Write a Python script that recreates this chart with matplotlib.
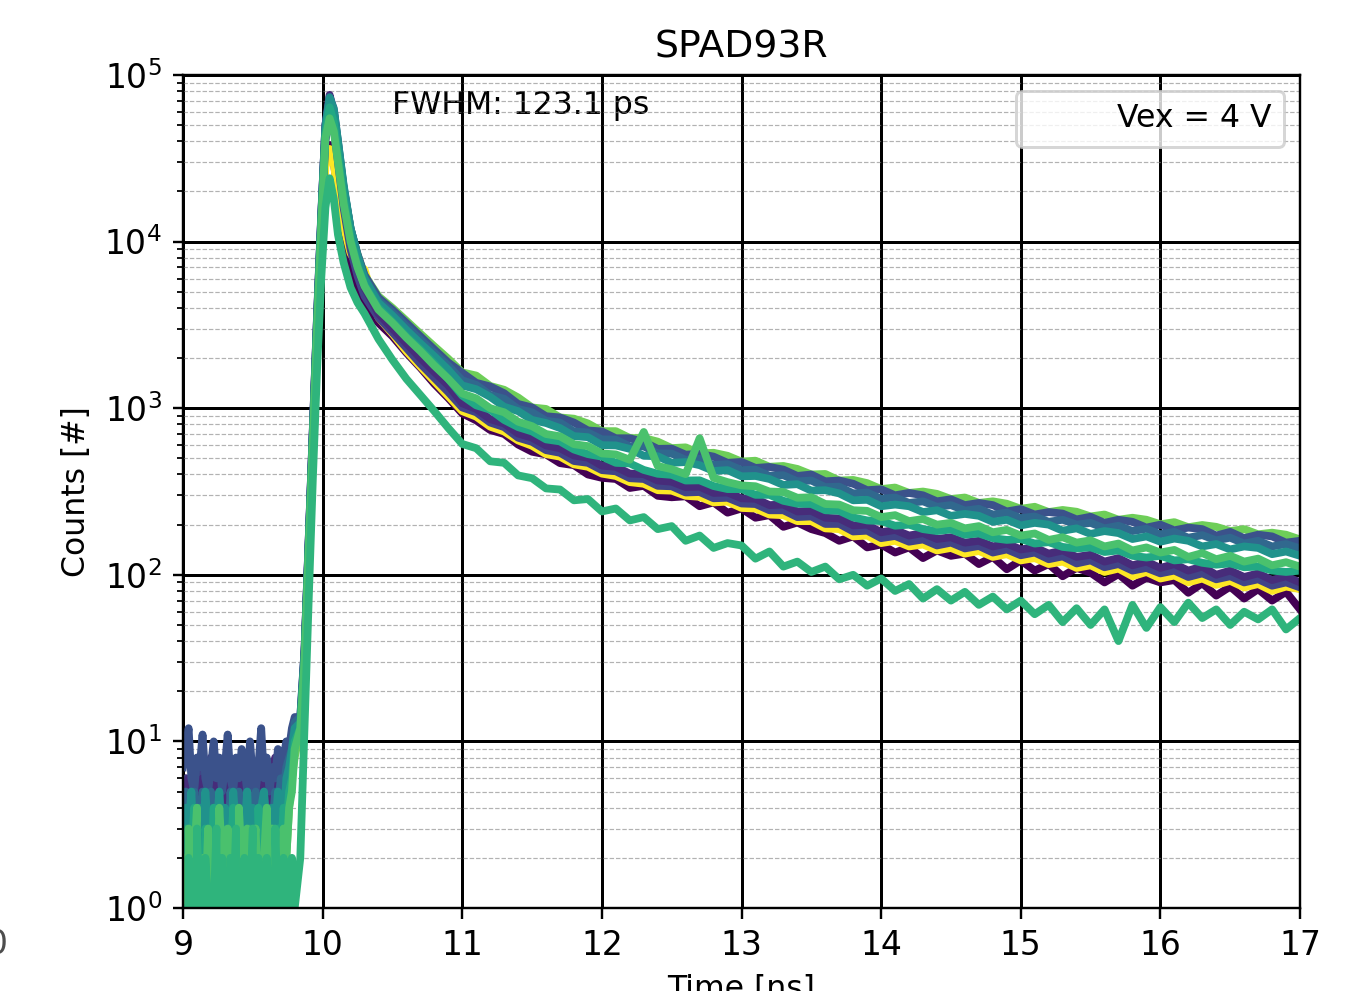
import numpy as np
import matplotlib
matplotlib.use('Agg')
from matplotlib import pyplot as plt

plt.rcParams['font.size'] = 10.5

# sampling grid: baseline noise, rising edge / peak, decay tail
t_noise = np.round(np.arange(9.0, 9.801, 0.02), 2)
t_rise = [9.84, 9.87, 9.90, 9.93, 9.96, 9.99, 10.02, 10.05, 10.08, 10.11,
          10.15, 10.20, 10.25, 10.30, 10.40, 10.50, 10.60, 10.70, 10.80, 10.90]
t_tail = np.round(np.arange(11.0, 17.01, 0.1), 1)
t = np.concatenate([t_noise, t_rise, t_tail])

purple = [4, 6, 3, 5, 4, 2, 6, 4, 5, 3, 4, 6, 2, 5, 4, 3, 6, 4, 5, 2, 4, 6, 3, 5, 4, 6, 3, 4, 5, 3, 6, 4, 5, 3, 6, 7, 5, 8, 9, 10, 12,
          11, 30, 140, 650, 3000, 12000, 30000, 38000, 30000, 19000, 11500, 7200, 5200, 4100, 3250, 2700, 2150, 1750, 1400, 1150,
          930, 845, 740, 700, 605, 548, 528, 468, 455, 400, 382, 376, 332, 342, 298, 292, 296, 258, 272, 236,
          250, 220, 228, 194, 206, 188, 178, 160, 170, 146, 152, 136, 146, 126, 140, 130, 134, 116, 128, 108,
          122, 106, 116, 98, 110, 103, 90, 101, 86, 96, 90, 93, 78, 89, 75, 85, 72, 82, 70, 79, 62]
yellow = [3, 5, 4, 2, 5, 3, 4, 6, 3, 4, 2, 5, 4, 3, 6, 3, 4, 5, 2, 4, 3, 5, 4, 2, 5, 3, 4, 5, 3, 2, 5, 4, 3, 6, 4, 5, 6, 7, 8, 9, 11,
          10, 26, 120, 560, 2600, 10500, 28000, 36000, 29000, 19500, 12500, 8500, 7200, 6800, 3500, 2800, 2200, 1780, 1450, 1180,
          960, 890, 775, 725, 640, 595, 530, 512, 460, 445, 405, 392, 360, 352, 322, 320, 298, 294, 272, 275,
          252, 250, 230, 228, 210, 210, 190, 188, 170, 172, 155, 160, 148, 152, 140, 145, 134, 139, 128, 133,
          122, 126, 116, 120, 110, 114, 104, 109, 98, 104, 95, 99, 90, 95, 87, 92, 84, 88, 80, 85, 82]
slate = [4, 6, 5, 3, 6, 4, 7, 5, 3, 6, 4, 5, 7, 4, 3, 6, 5, 4, 7, 3, 5, 6, 4, 5, 3, 7, 4, 6, 5, 3, 6, 5, 4, 7, 5, 6, 8, 7, 9, 11, 13,
         12, 32, 150, 700, 3200, 13000, 40000, 60000, 48000, 30000, 16000, 9000, 6200, 4700, 3500, 2850, 2300, 1850, 1520, 1250,
         1010, 945, 820, 770, 665, 628, 560, 540, 482, 470, 425, 418, 380, 376, 342, 340, 312, 314, 288, 290,
         268, 266, 244, 244, 222, 224, 202, 202, 182, 184, 166, 171, 158, 163, 150, 156, 144, 149, 136, 142,
         131, 136, 124, 129, 117, 122, 111, 116, 106, 110, 102, 106, 97, 102, 94, 98, 90, 94, 86, 90, 84]
indigo = [5, 4, 6, 3, 7, 5, 4, 6, 5, 3, 8, 4, 5, 6, 3, 5, 7, 4, 6, 5, 3, 6, 4, 7, 5, 3, 6, 5, 4, 7, 5, 6, 3, 8, 5, 6, 7, 9, 8, 10, 13,
          13, 34, 160, 750, 3500, 14000, 50000, 76000, 60000, 36000, 19000, 10500, 7000, 5300, 3700, 3000, 2450, 2000, 1650, 1370,
          1070, 990, 860, 810, 705, 665, 598, 575, 520, 505, 452, 445, 405, 402, 368, 362, 336, 338, 310, 312,
          288, 286, 262, 264, 240, 242, 220, 218, 198, 200, 180, 186, 172, 178, 164, 168, 156, 160, 148, 154,
          142, 146, 134, 140, 128, 132, 120, 126, 114, 120, 110, 116, 106, 112, 100, 106, 97, 102, 93, 98, 90]
jade = [1, 3, 0, 2, 4, 1, 2, 0, 3, 2, 1, 4, 0, 2, 3, 1, 0, 2, 4, 1, 3, 0, 2, 1, 3, 2, 0, 4, 1, 2, 3, 0, 2, 1, 3, 2, 4, 3, 5, 6, 10,
        12, 30, 140, 660, 3050, 12800, 44000, 64000, 52000, 33000, 18500, 10500, 7200, 5500, 4000, 3300, 2700, 2250, 1850, 1500,
        1190, 1040, 980, 850, 770, 725, 650, 632, 565, 530, 512, 470, 466, 426, 404, 398, 368, 369, 341, 327,
        327, 302, 302, 278, 267, 266, 244, 242, 221, 212, 210, 197, 200, 188, 183, 187, 174, 177, 166, 162,
        164, 154, 157, 147, 144, 146, 137, 140, 130, 127, 130, 122, 124, 118, 115, 117, 111, 112, 106, 104, 106]
greenmid = [2, 0, 3, 1, 2, 4, 0, 2, 1, 3, 0, 2, 1, 4, 2, 0, 3, 1, 2, 0, 4, 2, 1, 3, 0, 2, 3, 1, 0, 2, 4, 1, 3, 0, 2, 1, 3, 2, 4, 5, 9,
            12, 30, 140, 650, 3000, 12500, 42000, 55000, 46000, 30000, 17000, 10000, 7000, 5400, 3900, 3250, 2650, 2200, 1800, 1500,
            1225, 1145, 1000, 945, 830, 780, 700, 678, 608, 592, 535, 528, 490, 720, 450, 430, 402, 660, 382, 360,
            344, 340, 316, 314, 290, 292, 266, 264, 244, 242, 222, 228, 210, 216, 200, 205, 190, 196, 180, 186,
            172, 177, 162, 168, 156, 161, 148, 154, 140, 146, 136, 141, 128, 135, 124, 130, 120, 125, 114, 119, 112]
teal = [2, 4, 3, 5, 2, 3, 4, 2, 5, 3, 2, 4, 3, 5, 2, 4, 3, 2, 5, 3, 4, 2, 3, 5, 2, 4, 3, 2, 4, 5, 3, 2, 4, 3, 5, 4, 3, 6, 7, 9, 12,
        13, 32, 150, 700, 3300, 13500, 48000, 73000, 62000, 40000, 22000, 12000, 8200, 6000, 4300, 3600, 2950, 2450, 2050, 1700,
        1370, 1300, 1170, 1020, 960, 850, 815, 760, 680, 670, 600, 598, 570, 518, 515, 470, 475, 455, 420, 425,
        390, 392, 376, 346, 350, 320, 322, 308, 280, 282, 258, 264, 258, 238, 244, 226, 232, 226, 208, 214,
        198, 205, 200, 184, 190, 176, 183, 178, 164, 170, 158, 165, 160, 148, 153, 142, 148, 145, 133, 138, 130]
steel = [3, 5, 2, 4, 5, 3, 2, 5, 4, 3, 5, 2, 4, 5, 3, 4, 2, 5, 3, 4, 5, 2, 3, 5, 4, 2, 5, 3, 4, 5, 2, 4, 3, 5, 4, 6, 5, 7, 8, 9, 13,
         14, 34, 155, 730, 3450, 14000, 50000, 74000, 63000, 40000, 21500, 12000, 8300, 6100, 4450, 3750, 3100, 2580, 2150, 1800,
         1470, 1380, 1200, 1140, 990, 945, 840, 820, 725, 715, 650, 648, 590, 590, 535, 534, 490, 497, 456, 462,
         425, 428, 393, 396, 364, 368, 336, 338, 308, 312, 286, 291, 270, 276, 256, 262, 243, 249, 230, 236,
         219, 224, 208, 214, 200, 205, 190, 197, 183, 189, 175, 181, 167, 173, 161, 167, 154, 160, 148, 153, 144]
blue = [7, 9, 12, 6, 5, 8, 7, 11, 6, 5, 7, 10, 6, 8, 5, 7, 11, 6, 5, 8, 6, 9, 7, 5, 10, 6, 5, 7, 12, 6, 8, 5, 7, 6, 9, 6, 8, 10, 9, 12, 14,
        14, 35, 160, 760, 3600, 14500, 50000, 71000, 60000, 39000, 21000, 12000, 8400, 6300, 4600, 3900, 3250, 2700, 2250, 1880,
        1630, 1420, 1350, 1230, 1060, 1010, 895, 880, 820, 735, 725, 660, 660, 628, 570, 572, 526, 532, 512, 470,
        476, 438, 444, 428, 392, 400, 364, 368, 352, 322, 326, 300, 310, 300, 276, 284, 262, 270, 262, 240,
        248, 230, 238, 233, 215, 223, 205, 214, 208, 192, 200, 185, 192, 188, 172, 181, 166, 174, 170, 156, 160]
lightgreen = [0, 2, 1, 3, 0, 2, 4, 1, 0, 3, 2, 1, 0, 2, 3, 1, 4, 0, 2, 1, 0, 3, 2, 0, 1, 4, 2, 0, 3, 1, 2, 0, 4, 1, 2, 3, 1, 2, 4, 6, 8,
              12, 30, 140, 650, 3100, 13000, 45000, 62000, 55000, 37000, 21000, 12000, 8400, 6300, 4700, 4000, 3350, 2800, 2350, 1980,
              1640, 1570, 1360, 1290, 1160, 1010, 990, 880, 865, 810, 728, 728, 662, 662, 630, 576, 582, 535, 540, 518,
              478, 484, 445, 450, 432, 400, 403, 368, 371, 355, 327, 334, 310, 316, 306, 285, 291, 270, 276, 267,
              249, 256, 238, 245, 239, 224, 230, 214, 220, 214, 201, 207, 193, 199, 194, 183, 188, 175, 179, 174, 163]
outlier = [1, 0, 2, 1, 0, 3, 1, 0, 2, 1, 0, 1, 3, 0, 2, 1, 0, 2, 1, 3, 0, 1, 2, 0, 1, 3, 0, 2, 1, 0, 2, 1, 0, 3, 1, 0, 2, 1, 0, 2, 1,
           2, 12, 70, 380, 1700, 6000, 16000, 24000, 18000, 11000, 7500, 5300, 4300, 3700, 2600, 1950, 1500, 1200, 960, 760,
           610, 575, 480, 470, 395, 380, 330, 325, 280, 285, 240, 250, 212, 222, 188, 196, 160, 172, 145, 155,
           150, 125, 138, 112, 120, 104, 112, 94, 100, 86, 95, 80, 88, 72, 82, 70, 79, 66, 74, 62,
           70, 58, 66, 52, 63, 50, 62, 40, 66, 48, 64, 52, 68, 55, 62, 50, 60, 54, 62, 47, 55]

curves = [purple, yellow, lightgreen, slate, indigo, blue, steel, teal, jade, greenmid, outlier]
colors = ['#440154', '#fde725', '#6ece58', '#414487', '#472c7a', '#3b528b',
          '#31688e', '#20928c', '#22a884', '#4ac16d', '#2fb47c']

fig = plt.figure(figsize=(1362/216, 991/216), dpi=216)
ax = fig.add_axes([183/1362, 1-908/991, (1300-183)/1362, (908-75)/991])

for c, col in zip(curves, colors):
    ax.plot(t, c, color=col, lw=2.6)

ax.set_yscale('log')
ax.set_xlim(9, 17)
ax.set_ylim(1, 1e5)
ax.set_xticks(np.arange(9, 18))
ax.tick_params(labelsize=11)
ax.grid(which='major', color='k', lw=1.0)
ax.grid(which='minor', axis='y', color='gray', ls='--', lw=0.4, alpha=0.6)
ax.set_title('SPAD93R', fontsize=12.6)
ax.set_xlabel('Time [ns]')
ax.set_ylabel('Counts [#]')
ax.text(10.5, 5.8e4, 'FWHM: 123.1 ps', zorder=1)
ax.plot([], [], ' ', label='Vex = 4 V')
ax.legend(loc='upper right')
fig.text(8/1362, 1-945/991, '0', ha='right', va='center', fontsize=11, color='0.3')

fig.savefig('out.png', dpi=216)
